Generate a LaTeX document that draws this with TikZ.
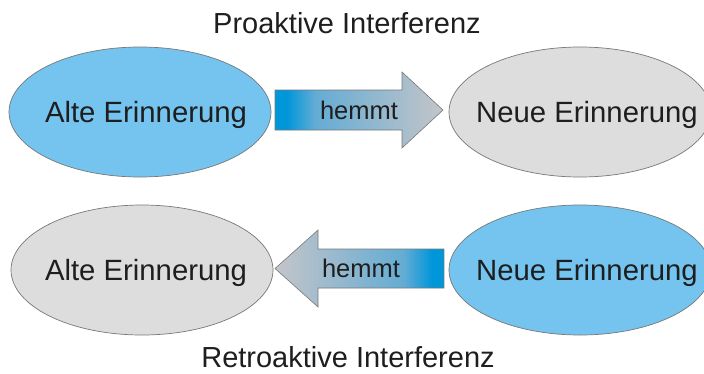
\documentclass[tikz,border=0pt]{standalone}
\usepackage{fontspec}
\setmainfont{Liberation Sans}
\usetikzlibrary{shapes.geometric}
\definecolor{ellblue}{RGB}{116,196,239}
\definecolor{ellgrey}{RGB}{221,221,221}
\definecolor{edge}{RGB}{120,120,120}
\definecolor{txt}{RGB}{30,30,30}
\definecolor{arrA}{RGB}{0,150,218}
\definecolor{arrB}{RGB}{100,172,212}
\definecolor{arrC}{RGB}{196,197,201}
\pgfdeclarehorizontalshading{blockshade}{100bp}{color(0bp)=(arrA); color(28.5bp)=(arrA); color(37bp)=(arrB); color(75bp)=(arrC); color(100bp)=(arrC)}
\tikzset{
  memory/.style={ellipse, draw=edge, line width=0.7pt, inner sep=0pt,
    minimum width=262pt, minimum height=130pt, text=txt,
    font=\fontsize{29.3}{33}\selectfont, text depth=0pt},
  oldmem/.style={memory, fill=ellblue},
  greymem/.style={memory, fill=ellgrey},
  blockarrow/.style={draw=edge, line width=0.6pt, shading=blockshade},
  blockarrowrev/.style={blockarrow, shading angle=180},
  arrowlabel/.style={text=txt, font=\fontsize{25.5}{30}\selectfont, inner sep=0pt, text depth=0pt},
  title/.style={text=txt, font=\fontsize{29}{34}\selectfont, inner sep=0pt}
}
\begin{document}
\begin{tikzpicture}[x=1pt,y=-1pt]
\useasboundingbox (0,0) rectangle (704,373);
\clip (0,0) rectangle (704,373);
% top row
\node[title, anchor=base] (t1) at (347,33) {Proaktive Interferenz};
\node[oldmem] (a1) at (140,112) {\makebox[0pt]{\hspace{12pt}Alte Erinnerung}};
\node[greymem] (n1) at (580,112) {\makebox[0pt]{\hspace{14pt}Neue Erinnerung}};
\path[blockarrow] (275,90) -- (402,90) -- (402,72) -- (443,110) -- (402,148) -- (402,130) -- (275,130) -- cycle;
\node[arrowlabel] (h1) at (359,110) {hemmt};
% bottom row
\node[greymem] (a2) at (142,270) {\makebox[0pt]{\hspace{8pt}Alte Erinnerung}};
\node[oldmem] (n2) at (580,270) {\makebox[0pt]{\hspace{14pt}Neue Erinnerung}};
\path[blockarrowrev] (444,249) -- (318,249) -- (318,230) -- (275,268.5) -- (318,307) -- (318,288) -- (444,288) -- cycle;
\node[arrowlabel] (h2) at (361,268.5) {hemmt};
\node[title, anchor=base] (t2) at (348,367.5) {Retroaktive Interferenz};
\end{tikzpicture}
\end{document}
